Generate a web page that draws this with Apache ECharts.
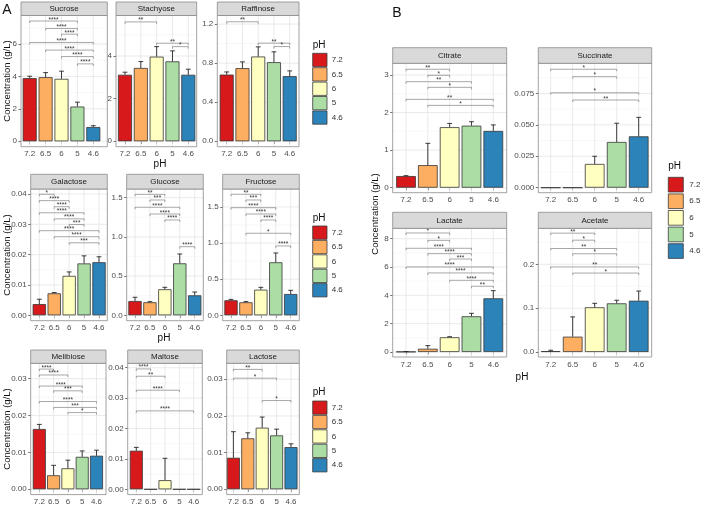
<!DOCTYPE html>
<html><head><meta charset="utf-8">
<script src="https://cdn.jsdelivr.net/npm/echarts@6/dist/echarts.min.js"></script>
<style>html,body{margin:0;padding:0;background:#fff}#c{width:702px;height:518px}</style>
</head><body><div id="c"></div>
<script>
// ---------- DATA ----------
const categories = ['7.2', '6.5', '6', '5', '4.6'];
const phColors = ['#D7191C', '#FDAE61', '#FFFFBF', '#ABDDA4', '#2B83BA'];

// means, upper error-bar ends, significance brackets [from, to, y, label], y ticks, y range
const sucroseMean = [3.89, 3.95, 3.85, 2.14, 0.88];
const sucroseUpper = [4.01, 4.23, 4.32, 2.41, 0.96];
const sucroseSig = [[1,4,7.41,'****'],[2,4,6.95,'****'],[3,4,6.6,'****'],[1,5,6.09,'****'],[2,5,5.62,'****'],[3,5,5.22,'****'],[4,5,4.77,'****']];
const sucroseTicks = [0, 2, 4, 6];
const sucroseRange = [-0.333, 7.75];

const stachyoseMean = [3.12, 3.44, 3.97, 3.75, 3.12];
const stachyoseUpper = [3.24, 3.74, 4.44, 4.24, 3.38];
const stachyoseSig = [[1,3,5.6,'**'],[3,5,4.6,'**'],[4,5,4.44,'*']];
const stachyoseTicks = [0, 2, 4];
const stachyoseRange = [-0.254, 5.9];

const raffinoseMean = [0.683, 0.749, 0.868, 0.81, 0.667];
const raffinoseUpper = [0.71, 0.813, 0.967, 0.916, 0.721];
const raffinoseSig = [[1,3,1.224,'**'],[3,5,1.005,'**'],[4,5,0.97,'*']];
const raffinoseTicks = [0, 0.4, 0.8, 1.2];
const raffinoseRange = [-0.0554, 1.288];

const galactoseMean = [0.0037, 0.00725, 0.013, 0.0171, 0.0175];
const galactoseUpper = [0.0053, 0.0075, 0.0143, 0.0196, 0.0193];
const galactoseSig = [[1,2,0.0399,'*'],[1,3,0.0378,'****'],[2,3,0.0358,'****'],[1,4,0.0338,'****'],[2,4,0.0318,'****'],[3,4,0.0299,'***'],[1,5,0.0279,'****'],[2,5,0.0259,'****'],[3,5,0.0239,'***']];
const galactoseTicks = [0, 0.01, 0.02, 0.03, 0.04];
const galactoseRange = [-0.00178, 0.04164];

const glucoseMean = [0.182, 0.166, 0.332, 0.663, 0.255];
const glucoseUpper = [0.23, 0.174, 0.357, 0.782, 0.297];
const glucoseSig = [[1,3,1.543,'**'],[2,3,1.471,'***'],[1,4,1.378,'****'],[2,4,1.292,'****'],[3,4,1.216,'****'],[4,5,0.875,'****']];
const glucoseTicks = [0, 0.5, 1.0, 1.5];
const glucoseRange = [-0.0689, 1.611];

const fructoseMean = [0.208, 0.18, 0.355, 0.734, 0.295];
const fructoseUpper = [0.22, 0.19, 0.387, 0.863, 0.346];
const fructoseSig = [[1,3,1.676,'**'],[2,3,1.597,'***'],[1,4,1.49,'****'],[2,4,1.403,'****'],[3,4,1.32,'****'],[2,5,1.136,'*'],[4,5,0.96,'****']];
const fructoseTicks = [0, 0.5, 1.0, 1.5];
const fructoseRange = [-0.0748, 1.749];

const melibioseMean = [0.01636, 0.0038, 0.0057, 0.0088, 0.0091];
const melibioseUpper = [0.0176, 0.0065, 0.0079, 0.0104, 0.0106];
const melibioseSig = [[1,2,0.0326,'****'],[1,3,0.031,'****'],[1,4,0.028,'****'],[2,4,0.0267,'***'],[1,5,0.0238,'****'],[2,5,0.0222,'***'],[3,5,0.0208,'*']];
const melibioseTicks = [0, 0.01, 0.02, 0.03];
const melibioseRange = [-0.00144, 0.03417];

const maltoseMean = [0.0127, 0, 0.003, 0, 0];
const maltoseUpper = [0.0138, 0, 0.0102, 0, 0];
const maltoseSig = [[1,2,0.0396,'****'],[1,3,0.0372,'**'],[1,4,0.0326,'****'],[1,5,0.0258,'****']];
const maltoseTicks = [0, 0.01, 0.02, 0.03, 0.04];
const maltoseRange = [-0.00174, 0.04145];

const lactoseMean = [0.0086, 0.0139, 0.0168, 0.0147, 0.0115];
const lactoseUpper = [0.0157, 0.0154, 0.0197, 0.0164, 0.0124];
const lactoseSig = [[1,3,0.0327,'**'],[1,4,0.0303,'*'],[3,5,0.0242,'*']];
const lactoseTicks = [0, 0.01, 0.02, 0.03];
const lactoseRange = [-0.00145, 0.03436];

const citrateMean = [0.31, 0.6, 1.61, 1.65, 1.51];
const citrateUpper = [0.32, 1.18, 1.71, 1.755, 1.67];
const citrateSig = [[1,3,3.15,'**'],[2,3,2.99,'*'],[1,4,2.82,'**'],[2,4,2.67,'*'],[1,5,2.35,'**'],[2,5,2.19,'*']];
const citrateTicks = [0, 1, 2, 3];
const citrateRange = [-0.133, 3.309];

const succinateMean = [0, 0, 0.0189, 0.0364, 0.0409];
const succinateUpper = [0, 0, 0.025, 0.0513, 0.056];
const succinateSig = [[1,4,0.0943,'*'],[2,4,0.0884,'*'],[1,5,0.0756,'*'],[2,5,0.0698,'**']];
const succinateTicks = [0, 0.025, 0.05, 0.075];
const succinateRange = [-0.004, 0.09904];

const lactateMean = [0.02, 0.23, 1.04, 2.52, 3.79];
const lactateUpper = [0.03, 0.45, 1.08, 2.73, 4.33];
const lactateSig = [[1,3,8.4,'*'],[2,3,7.88,'*'],[1,4,7.32,'****'],[2,4,6.94,'****'],[3,4,6.56,'***'],[1,5,6.0,'****'],[2,5,5.58,'****'],[3,5,5.06,'****'],[4,5,4.64,'**']];
const lactateTicks = [0, 2, 4, 6, 8];
const lactateRange = [-0.353, 8.73];

const acetateMean = [0.002, 0.035, 0.102, 0.111, 0.117];
const acetateUpper = [0.004, 0.08, 0.111, 0.118, 0.139];
const acetateSig = [[1,3,0.271,'**'],[2,3,0.255,'*'],[1,4,0.236,'**'],[2,4,0.224,'*'],[1,5,0.194,'**'],[2,5,0.18,'*']];
const acetateTicks = [0, 0.1, 0.2];
const acetateRange = [-0.0114, 0.2821];

// ---------- LAYOUT ----------
const FONT = '"Liberation Sans", Arial, Helvetica, sans-serif';
const R1 = {sTop: 2, top: 15.5, bottom: 146.7, bw: 14};
const R2 = {sTop: 174.3, top: 189, bottom: 320.7, bw: 13.3};
const R3 = {sTop: 350, top: 363.3, bottom: 494.6, bw: 13};
const RB1 = {sTop: 47.7, top: 63.3, bottom: 192.7, bw: 19.7};
const RB2 = {sTop: 212.3, top: 228.3, bottom: 357, bw: 19.7};

const panels = [
  {name:'Sucrose', mean:sucroseMean, upper:sucroseUpper, sig:sucroseSig, ticks:sucroseTicks, range:sucroseRange, dec:0, row:R1, l:21, r:107.3, c1:29.7, c5:93.3},
  {name:'Stachyose', mean:stachyoseMean, upper:stachyoseUpper, sig:stachyoseSig, ticks:stachyoseTicks, range:stachyoseRange, dec:0, row:R1, l:116, r:196.7, c1:125, c5:188.3},
  {name:'Raffinose', mean:raffinoseMean, upper:raffinoseUpper, sig:raffinoseSig, ticks:raffinoseTicks, range:raffinoseRange, dec:1, row:R1, l:217.3, r:299, c1:226.7, c5:289.7},
  {name:'Galactose', mean:galactoseMean, upper:galactoseUpper, sig:galactoseSig, ticks:galactoseTicks, range:galactoseRange, dec:2, row:R2, l:30.7, r:107.3, c1:39.3, c5:99},
  {name:'Glucose', mean:glucoseMean, upper:glucoseUpper, sig:glucoseSig, ticks:glucoseTicks, range:glucoseRange, dec:1, row:R2, l:126.7, r:203.3, c1:135, c5:194.7},
  {name:'Fructose', mean:fructoseMean, upper:fructoseUpper, sig:fructoseSig, ticks:fructoseTicks, range:fructoseRange, dec:1, row:R2, l:222.7, r:299.3, c1:231, c5:290.7},
  {name:'Melibiose', mean:melibioseMean, upper:melibioseUpper, sig:melibioseSig, ticks:melibioseTicks, range:melibioseRange, dec:2, row:R3, l:30.7, r:106, c1:39.3, c5:96.5},
  {name:'Maltose', mean:maltoseMean, upper:maltoseUpper, sig:maltoseSig, ticks:maltoseTicks, range:maltoseRange, dec:2, row:R3, l:127.7, r:202.3, c1:136.3, c5:193.7},
  {name:'Lactose', mean:lactoseMean, upper:lactoseUpper, sig:lactoseSig, ticks:lactoseTicks, range:lactoseRange, dec:2, row:R3, l:226.7, r:299.3, c1:233.4, c5:291},
  {name:'Citrate', mean:citrateMean, upper:citrateUpper, sig:citrateSig, ticks:citrateTicks, range:citrateRange, dec:0, row:RB1, l:392.7, r:506.7, c1:406, c5:493.3},
  {name:'Succinate', mean:succinateMean, upper:succinateUpper, sig:succinateSig, ticks:succinateTicks, range:succinateRange, dec:3, row:RB1, l:538.3, r:651.7, c1:550.7, c5:638.7},
  {name:'Lactate', mean:lactateMean, upper:lactateUpper, sig:lactateSig, ticks:lactateTicks, range:lactateRange, dec:0, row:RB2, l:392.7, r:506.7, c1:406, c5:493.3},
  {name:'Acetate', mean:acetateMean, upper:acetateUpper, sig:acetateSig, ticks:acetateTicks, range:acetateRange, dec:1, row:RB2, l:538.3, r:651.7, c1:550.7, c5:638.7}
];

const grids = [], xAxes = [], yAxes = [], series = [], graphics = [];
const positions = [1, 2, 3, 4, 5];

panels.forEach((p, k) => {
  const R = p.row;
  const s = (p.c5 - p.c1) / 4;
  const xmin = 1 - (p.c1 - p.l) / s, xmax = 5 + (p.r - p.c5) / s;
  grids.push({left: p.l, top: R.top, width: p.r - p.l, height: R.bottom - R.top});
  xAxes.push({gridIndex: k, type: 'value', min: xmin, max: xmax,
    axisLine: {show: false}, splitLine: {show: false},
    axisTick: {show: true, length: 2.5, customValues: positions, lineStyle: {color: '#333', width: 0.7}},
    axisLabel: {customValues: positions, formatter: v => categories[Math.round(v) - 1] || '', fontSize: 8, color: '#4D4D4D', margin: 3.5, fontFamily: FONT}
  });
  yAxes.push({gridIndex: k, type: 'value', min: p.range[0], max: p.range[1],
    axisLine: {show: false}, splitLine: {show: false},
    axisTick: {show: true, length: 2.5, customValues: p.ticks, lineStyle: {color: '#333', width: 0.7}},
    axisLabel: {customValues: p.ticks, formatter: v => Number(v).toFixed(p.dec), fontSize: 8, color: '#4D4D4D', margin: 4, fontFamily: FONT}
  });
  // gridlines
  series.push({type: 'custom', xAxisIndex: k, yAxisIndex: k, silent: true, z: 1, data: [[1, 0]],
    renderItem: (params, api) => {
      const cs = params.coordSys;
      const ch = [];
      const step = p.ticks[1] - p.ticks[0];
      p.ticks.forEach(v => {
        const m = v + step / 2;
        if (m < p.range[1]) {
          const y = api.coord([1, m])[1];
          ch.push({type: 'line', shape: {x1: cs.x, y1: y, x2: cs.x + cs.width, y2: y}, style: {stroke: '#F3F3F3', lineWidth: 0.6}});
        }
      });
      p.ticks.forEach(v => {
        const y = api.coord([1, v])[1];
        ch.push({type: 'line', shape: {x1: cs.x, y1: y, x2: cs.x + cs.width, y2: y}, style: {stroke: '#E4E4E4', lineWidth: 0.8}});
      });
      positions.forEach(i => {
        const x = api.coord([i, 0])[0];
        ch.push({type: 'line', shape: {x1: x, y1: cs.y, x2: x, y2: cs.y + cs.height}, style: {stroke: '#E4E4E4', lineWidth: 0.8}});
      });
      return {type: 'group', children: ch};
    }
  });
  // bars
  series.push({type: 'bar', xAxisIndex: k, yAxisIndex: k, barWidth: R.bw, z: 3,
    itemStyle: {borderColor: '#363636', borderWidth: 0.8},
    data: p.mean.map((v, i) => ({value: [i + 1, v], itemStyle: {color: phColors[i]}}))
  });
  // error bars (upper whisker)
  series.push({type: 'custom', xAxisIndex: k, yAxisIndex: k, silent: true, z: 4,
    data: p.mean.map((v, i) => [i + 1, v, p.upper[i]]),
    renderItem: (params, api) => {
      const x = api.value(0), m = api.value(1), u = api.value(2);
      if (!(u > m)) return null;
      const a = api.coord([x, m]), b = api.coord([x, u]);
      return {type: 'group', children: [
        {type: 'line', shape: {x1: a[0], y1: a[1], x2: b[0], y2: b[1]}, style: {stroke: '#262626', lineWidth: 0.9}},
        {type: 'line', shape: {x1: b[0] - 2.4, y1: b[1], x2: b[0] + 2.4, y2: b[1]}, style: {stroke: '#262626', lineWidth: 0.9}}
      ]};
    }
  });
  // significance brackets
  series.push({type: 'custom', xAxisIndex: k, yAxisIndex: k, silent: true, z: 5,
    data: p.sig.map(d => [d[0], d[1], d[2], d[3]]),
    renderItem: (params, api) => {
      const row = p.sig[params.dataIndex];
      const a = api.coord([row[0], row[2]]), b = api.coord([row[1], row[2]]);
      return {type: 'group', children: [
        {type: 'polyline', shape: {points: [[a[0], a[1] + 2], [a[0], a[1]], [b[0], b[1]], [b[0], b[1] + 2]]}, style: {stroke: '#6b6b6b', lineWidth: 0.6, fill: 'none'}},
        {type: 'text', style: {text: row[3], x: (a[0] + b[0]) / 2, y: a[1] + 2.2, align: 'center', verticalAlign: 'bottom', fontSize: 6.5, fill: '#333', fontFamily: FONT}}
      ]};
    }
  });
  // panel border and strip
  graphics.push({type: 'rect', z: 100, silent: true, shape: {x: p.l, y: R.top, width: p.r - p.l, height: R.bottom - R.top}, style: {fill: 'none', stroke: '#8a8a8a', lineWidth: 0.8}});
  graphics.push({type: 'rect', z: 100, silent: true, shape: {x: p.l, y: R.sTop, width: p.r - p.l, height: R.top - R.sTop}, style: {fill: '#D9D9D9', stroke: '#8a8a8a', lineWidth: 0.8}});
  graphics.push({type: 'text', z: 101, silent: true, x: (p.l + p.r) / 2, y: (R.sTop + R.top) / 2 + 0.5, style: {text: p.name, align: 'center', verticalAlign: 'middle', fontSize: 8, fill: '#1A1A1A', fontFamily: FONT}});
});

// titles
function txt(text, x, y, size, opts) {
  return Object.assign({type: 'text', z: 101, silent: true, x: x, y: y,
    style: {text: text, align: 'center', verticalAlign: 'middle', fontSize: size, fill: '#111', fontFamily: FONT}}, opts || {});
}
graphics.push(txt('A', 6.8, 10.5, 14));
graphics.push(txt('B', 397, 13.5, 14));
[81, 255, 429].forEach(y => graphics.push(txt('Concentration (g/L)', 7.5, y, 9.5, {rotation: Math.PI / 2})));
graphics.push(txt('Concentration (g/L)', 375.5, 214, 9.5, {rotation: Math.PI / 2}));
graphics.push(txt('pH', 160, 164.5, 10));
graphics.push(txt('pH', 164, 338.5, 10));
graphics.push(txt('pH', 522, 377, 10));

// legends
function legend(x, titleY, firstTop, kw, kh, step, labelX) {
  graphics.push({type: 'text', z: 101, silent: true, x: x, y: titleY,
    style: {text: 'pH', align: 'left', verticalAlign: 'middle', fontSize: 10, fill: '#111', fontFamily: FONT}});
  categories.forEach((c, i) => {
    const t = firstTop + i * step;
    graphics.push({type: 'rect', z: 101, silent: true, shape: {x: x, y: t, width: kw, height: kh}, style: {fill: phColors[i], stroke: '#3a3a3a', lineWidth: 0.8}});
    graphics.push({type: 'text', z: 101, silent: true, x: labelX, y: t + kh / 2,
      style: {text: c, align: 'left', verticalAlign: 'middle', fontSize: 8, fill: '#333', fontFamily: FONT}});
  });
}
legend(312.7, 45, 53.3, 14.3, 13.3, 14.4, 331.7);
legend(312.7, 218.3, 226, 14.3, 13.3, 14.4, 331.7);
legend(312.7, 392.3, 401, 14.3, 13.3, 14.4, 331.7);
legend(668.3, 166.7, 177.3, 15, 14.7, 16.6, 689.3);

const chart = echarts.init(document.getElementById('c'), null, {renderer: 'canvas'});
chart.setOption({
  animation: false,
  backgroundColor: '#ffffff',
  grid: grids,
  xAxis: xAxes,
  yAxis: yAxes,
  series: series,
  graphic: {elements: graphics}
});
</script>
</body></html>
